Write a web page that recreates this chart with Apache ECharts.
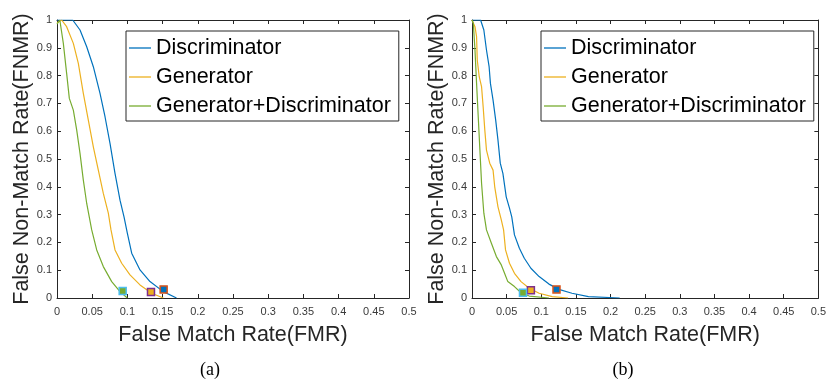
<!DOCTYPE html>
<html>
<head>
<meta charset="utf-8">
<script src="https://cdn.jsdelivr.net/npm/echarts@6/dist/echarts.min.js"></script>
<style>html,body{margin:0;padding:0;background:#fff;}#c{width:829px;height:381px;}</style>
</head>
<body>
<div id="c"></div>
<script>
// ---- data (FMR, FNMR pairs) ----
const seriesNames = ['Discriminator', 'Generator', 'Generator+Discriminator'];
const xTicks = [0, 0.05, 0.1, 0.15, 0.2, 0.25, 0.3, 0.35, 0.4, 0.45, 0.5];
const yTicks = [0, 0.1, 0.2, 0.3, 0.4, 0.5, 0.6, 0.7, 0.8, 0.9, 1];
const panelLabels = ['(a)', '(b)'];

// panel (a)
const aDisc = [[0,1],[0.0223,1],[0.0327,0.964],[0.0422,0.904],[0.0516,0.832],[0.0611,0.736],[0.0682,0.652],[0.0753,0.556],[0.0824,0.448],[0.0895,0.352],[0.0952,0.292],[0.0999,0.233],[0.1061,0.161],[0.1179,0.101],[0.1321,0.059],[0.151,0.023],[0.169,0.001],[0.170,0]];
const aGen = [[0,0.99],[0.0066,1],[0.0137,0.976],[0.0232,0.916],[0.0303,0.844],[0.0374,0.736],[0.0445,0.64],[0.0516,0.544],[0.0587,0.46],[0.0658,0.376],[0.0729,0.305],[0.0767,0.245],[0.0824,0.173],[0.0919,0.125],[0.1037,0.083],[0.1179,0.047],[0.1345,0.017],[0.151,0]];
const aGenDisc = [[0,0.985],[0.004,1],[0.009,0.916],[0.0137,0.808],[0.0175,0.718],[0.0185,0.712],[0.0232,0.676],[0.028,0.604],[0.0327,0.52],[0.0374,0.424],[0.0422,0.34],[0.0493,0.245],[0.0564,0.173],[0.0658,0.113],[0.0777,0.059],[0.0895,0.023],[0.0999,0]];
const aEER = [[0.1515,0.031],[0.1335,0.0216],[0.0933,0.025]];

// panel (b)
const bDisc = [[0,1],[0.0124,1],[0.0171,0.964],[0.0209,0.892],[0.0247,0.832],[0.0266,0.772],[0.0304,0.712],[0.0342,0.64],[0.0375,0.568],[0.0408,0.485],[0.0446,0.448],[0.0494,0.364],[0.0541,0.323],[0.0574,0.292],[0.0613,0.227],[0.0684,0.179],[0.0755,0.143],[0.085,0.107],[0.0969,0.077],[0.1111,0.05],[0.1254,0.031],[0.1443,0.017],[0.1681,0.005],[0.2132,0]];
const bGen = [[0,1],[0.001,1],[0.0043,0.976],[0.0066,0.94],[0.0076,0.856],[0.0104,0.796],[0.0138,0.76],[0.0161,0.688],[0.0185,0.604],[0.0209,0.532],[0.0256,0.485],[0.0304,0.46],[0.0328,0.4],[0.0375,0.328],[0.0423,0.281],[0.0456,0.245],[0.0484,0.173],[0.0541,0.125],[0.0613,0.089],[0.0708,0.059],[0.0826,0.035],[0.0969,0.017],[0.1158,0.005],[0.1387,0]];
const bGenDisc = [[0,1],[0.0019,0.988],[0.0043,0.892],[0.0066,0.772],[0.009,0.652],[0.0114,0.532],[0.0138,0.413],[0.0171,0.305],[0.0209,0.245],[0.028,0.197],[0.0352,0.149],[0.0423,0.119],[0.047,0.089],[0.0517,0.059],[0.0613,0.041],[0.0708,0.019],[0.0826,0.007],[0.111,0]];
const bEER = [[0.122,0.031],[0.085,0.0276],[0.0736,0.019]];

// ---- styling ----
const lineColors = ['#0072BD', '#EDB120', '#77AC30'];
const markerFill = ['#0072BD', '#EDB120', '#77AC30'];
const markerEdge = ['#D95319', '#7E2F8E', '#4DBEEE'];
const axisColor = '#262626';
const font = 'Liberation Sans, Arial, sans-serif';

const grids = [
  {left: 57, top: 20, width: 352, height: 278},
  {left: 472, top: 20, width: 351, height: 278}
];

function xAx(gi, top) {
  return {
    type: 'value', gridIndex: gi, min: xTicks[0], max: xTicks[xTicks.length-1], interval: 0.05,
    position: top ? 'top' : 'bottom',
    axisLine: {show: true, onZero: false, lineStyle: {color: axisColor, width: 1}},
    axisTick: {show: true, inside: true, length: 4, lineStyle: {color: axisColor}},
    axisLabel: {show: !top, fontSize: 11, color: '#3a3a3a', fontFamily: font, margin: 8},
    splitLine: {show: false},
    name: top ? '' : 'False Match Rate(FMR)', nameLocation: 'middle', nameGap: 26,
    nameTextStyle: {fontSize: 21.5, color: axisColor, fontFamily: font}
  };
}
function yAx(gi, right) {
  return {
    type: 'value', gridIndex: gi, min: yTicks[0], max: yTicks[yTicks.length-1], interval: 0.1,
    position: right ? 'right' : 'left',
    axisLine: {show: true, onZero: false, lineStyle: {color: axisColor, width: 1}},
    axisTick: {show: true, inside: true, length: 4, lineStyle: {color: axisColor}},
    axisLabel: {show: !right, fontSize: 11, color: '#3a3a3a', fontFamily: font, margin: 5},
    splitLine: {show: false},
    name: right ? '' : 'False Non-Match Rate(FNMR)', nameLocation: 'middle', nameGap: 22,
    nameTextStyle: {fontSize: 21.5, color: axisColor, fontFamily: font}
  };
}

const panels = [[aDisc, aGen, aGenDisc, aEER], [bDisc, bGen, bGenDisc, bEER]];
const series = [];
panels.forEach((p, gi) => {
  for (let k = 0; k < 3; k++) {
    series.push({
      name: seriesNames[k], type: 'line', xAxisIndex: gi*2, yAxisIndex: gi*2,
      data: p[k], symbol: 'none', showSymbol: false, smooth: false, animation: false,
      lineStyle: {color: lineColors[k], width: 1.2}, itemStyle: {color: lineColors[k]}, z: 2
    });
  }
  for (let k = 0; k < 3; k++) {
    series.push({
      name: 'EER' + gi + k, type: 'scatter', xAxisIndex: gi*2, yAxisIndex: gi*2,
      data: [p[3][k]], symbol: 'rect', symbolSize: 7, animation: false,
      itemStyle: {color: markerFill[k], borderColor: markerEdge[k], borderWidth: 1.5, opacity: 1}, z: 5
    });
  }
});

function legendFor(left) {
  return {
    data: seriesNames.map((n, k) => ({name: n, icon: 'rect', itemStyle: {color: lineColors[k], borderWidth: 0}})),
    orient: 'vertical', left: left, top: 31,
    backgroundColor: '#fff', borderColor: axisColor, borderWidth: 1,
    padding: [6, 8, 4, 3], itemWidth: 22, itemHeight: 1.3, itemGap: 7,
    selectedMode: false,
    textStyle: {fontSize: 21.5, color: '#000', fontFamily: font, lineHeight: 22}
  };
}

const chart = echarts.init(document.getElementById('c'), null, {renderer: 'canvas'});
chart.setOption({
  backgroundColor: '#fff',
  animation: false,
  grid: grids,
  xAxis: [xAx(0, false), xAx(0, true), xAx(1, false), xAx(1, true)],
  yAxis: [yAx(0, false), yAx(0, true), yAx(1, false), yAx(1, true)],
  legend: [legendFor(126), legendFor(541)],
  series: series,
  graphic: [
    {type: 'text', x: 210, y: 370, style: {text: panelLabels[0], align: 'center', verticalAlign: 'middle', font: '18px "Liberation Serif", "Times New Roman", serif', fill: '#000'}},
    {type: 'text', x: 623, y: 370, style: {text: panelLabels[1], align: 'center', verticalAlign: 'middle', font: '18px "Liberation Serif", "Times New Roman", serif', fill: '#000'}}
  ]
});
</script>
</body>
</html>
